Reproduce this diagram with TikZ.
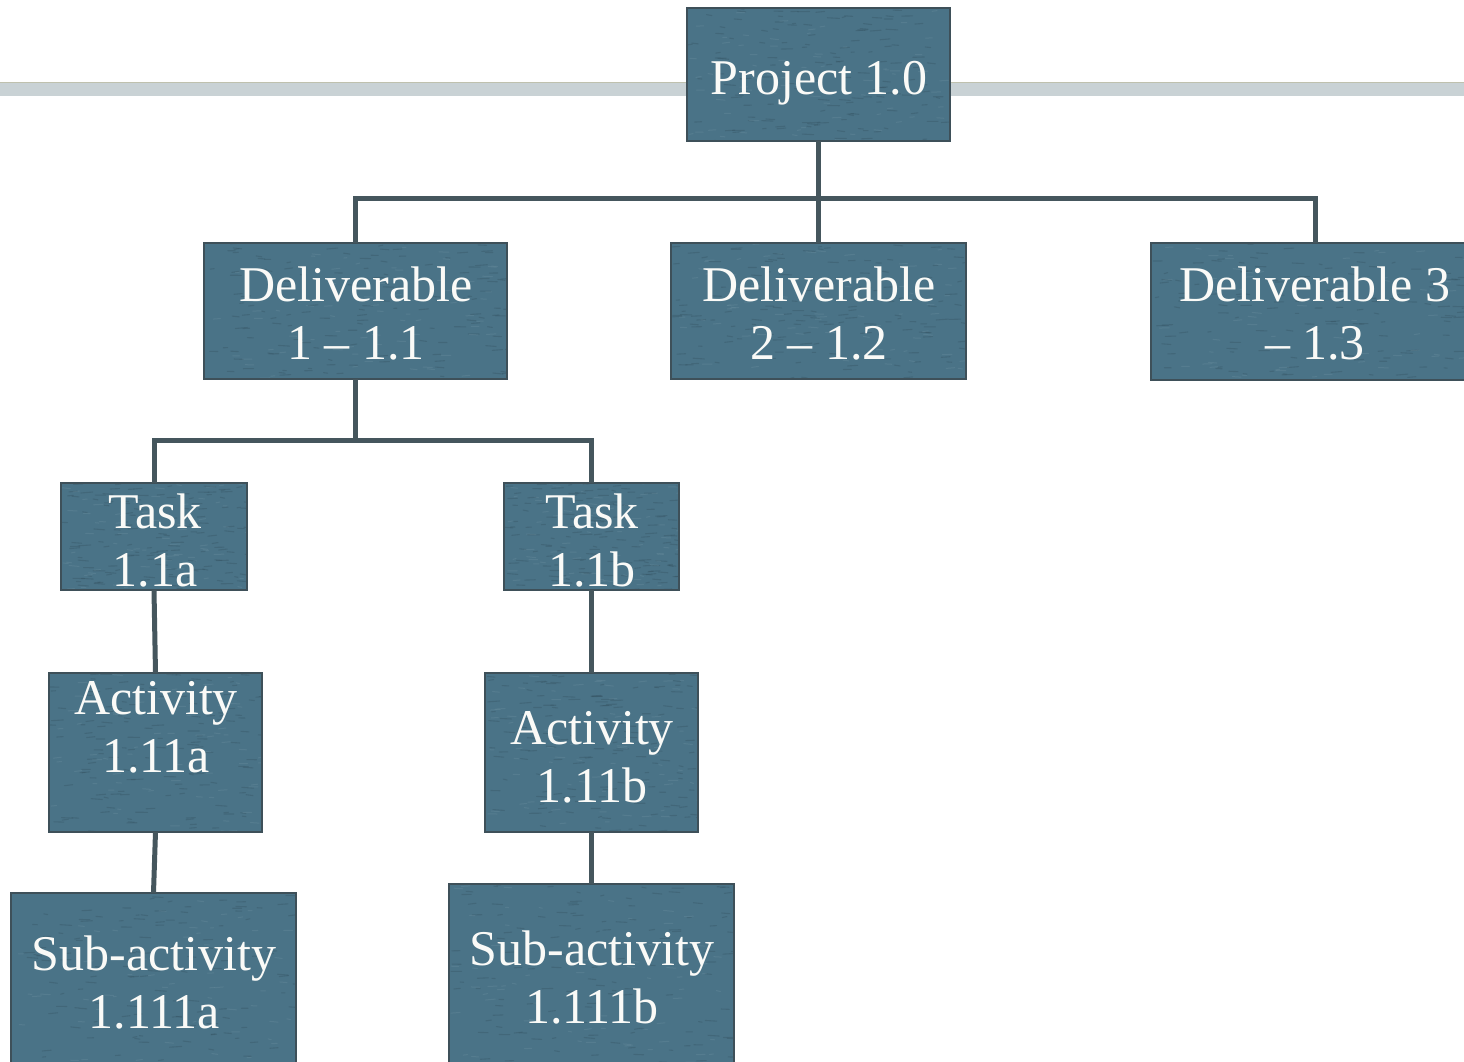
\documentclass[tikz,border=0pt]{standalone}
\usepackage{fontspec}
\setmainfont{Liberation Serif}
\usetikzlibrary{calc}

\definecolor{slate}{HTML}{4A7387}
\definecolor{slateedge}{HTML}{3E5059}
\definecolor{slatedark}{HTML}{2E4A57}
\definecolor{slatelight}{HTML}{7FA0AE}
\definecolor{linkgray}{HTML}{45565D}
\definecolor{bandgray}{HTML}{C9D2D5}
\definecolor{bandedge}{HTML}{BFC1AE}
\definecolor{paper}{HTML}{FAFAF7}

\tikzset{
  wbox/.style={rectangle, fill=slate, inner sep=0pt, outer sep=0pt},
  wedge/.style={draw=slateedge, line width=2pt},
  grain/.style={draw=slatedark, opacity=0.28, line width=1.1pt, line cap=round},
  sheen/.style={draw=slatelight, opacity=0.22, line width=1pt, line cap=round},
  wtext/.style={text=paper, align=center, inner sep=0pt,
                font=\fontsize{50}{58}\selectfont},
  link/.style={draw=linkgray, line width=5pt},
}

% box with a grainy fill: name, x1, y1, x2, y2 (pixel grid, y downwards)
\newcommand\grainbox[5]{%
  \node[wbox, minimum width={(#4-#2)*1pt}, minimum height={(#5-#3)*1pt}]
       (#1) at ({(#2+#4)/2},{(#3+#5)/2}) {};
  \begin{scope}
    \clip (#2,#3) rectangle (#4,#5);
    \foreach \k in {1,...,140}{%
      \pgfmathsetmacro\gx{#2+rnd*(#4-#2)}%
      \pgfmathsetmacro\gy{#3+rnd*(#5-#3)}%
      \draw[grain] (\gx,\gy) -- ++({3+9*rnd},{2*rnd-1});
    }
    \foreach \k in {1,...,70}{%
      \pgfmathsetmacro\gx{#2+rnd*(#4-#2)}%
      \pgfmathsetmacro\gy{#3+rnd*(#5-#3)}%
      \draw[sheen] (\gx,\gy) -- ++({3+7*rnd},{2*rnd-1});
    }
  \end{scope}
  \draw[wedge] (#1.north west) rectangle (#1.south east);
}

\begin{document}
\begin{tikzpicture}[x=1pt, y=-1pt]
  \pgfmathsetseed{4217}
  \useasboundingbox (0,0) rectangle (1464,1062);
  \clip (0,0) rectangle (1464,1062);
  \fill[white] (0,0) rectangle (1464,1062);

  % header band
  \fill[bandgray] (0,82) rectangle (1464,96);
  \draw[bandedge, line width=1pt] (0,82.5) -- (1464,82.5);

  % boxes
  \grainbox{p}{687}{8}{950}{141}
  \grainbox{d1}{204}{243}{507}{379}
  \grainbox{d2}{671}{243}{966}{379}
  \grainbox{d3}{1151}{243}{1480}{380}
  \grainbox{ta}{61}{483}{247}{590}
  \grainbox{tb}{504}{483}{679}{590}
  \grainbox{aa}{49}{673}{262}{832}
  \grainbox{ab}{485}{673}{698}{832}
  \grainbox{sa}{11}{893}{296}{1080}
  \grainbox{sb}{449}{884}{734}{1080}

  % labels
  \node[wtext] (p-t)  at (819,83) {Project 1.0};
  \node[wtext] (d1-t) at (356,313.5) {Deliverable\\1 – 1.1};
  \node[wtext] (d2-t) at (819,313.5) {Deliverable\\2 – 1.2};
  \node[wtext] (d3-t) at (1315,313.5) {Deliverable 3\\– 1.3};
  \node[wtext] (ta-t) at (155,540.5) {Task\\1.1a};
  \node[wtext] (tb-t) at (592,540.5) {Task\\1.1b};
  \node[wtext] (aa-t) at (156,727) {Activity\\1.11a};
  \node[wtext] (ab-t) at (592,757) {Activity\\1.11b};
  \node[wtext] (sa-t) at (154,982) {Sub-activity\\1.111a};
  \node[wtext] (sb-t) at (592,977) {Sub-activity\\1.111b};

  % connectors
  \coordinate (j1) at (818.5,198);
  \coordinate (j2) at (355.5,440);
  \draw[link] (p.south) -- (j1);
  \draw[link] (d1.north) |- (j1) -| (d3.north);
  \draw[link] (j1) -- (d2.north);
  \draw[link] (d1.south) -- (j2);
  \draw[link] (ta.north) |- (j2) -| (tb.north);
  \draw[link] (ta.south) -- (aa.north);
  \draw[link] (aa.south) -- (sa.north);
  \draw[link] (tb.south) -- (ab.north);
  \draw[link] (ab.south) -- (sb.north);
\end{tikzpicture}
\end{document}
